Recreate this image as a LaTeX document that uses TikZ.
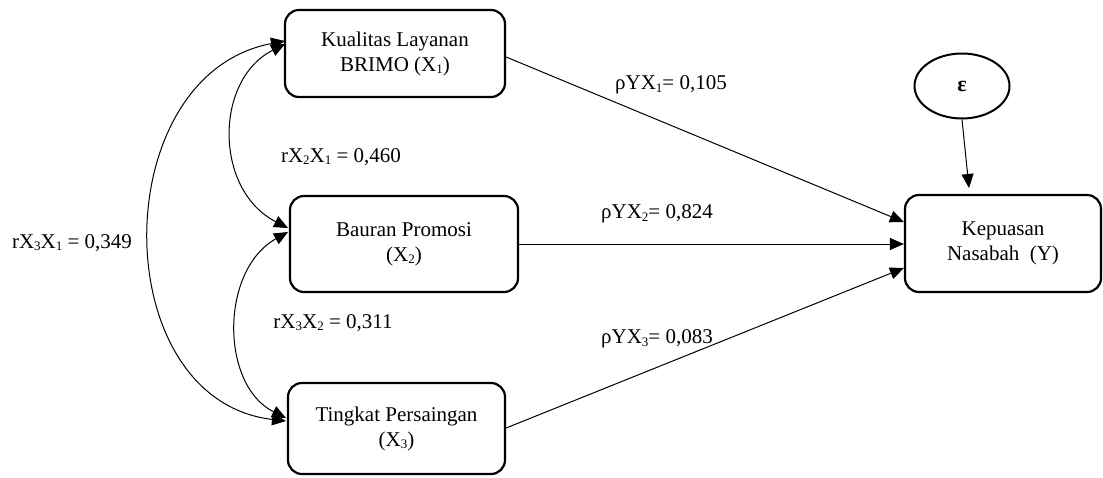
\documentclass[tikz,border=0pt]{standalone}
\usepackage{fontspec}
\setmainfont{Liberation Serif}
\usetikzlibrary{arrows.meta,shapes.geometric}
\newcommand\mysub[1]{\raisebox{-0.25ex}{\fontsize{13}{13}\selectfont #1}}
\begin{document}
\begin{tikzpicture}[x=1pt,y=-1pt,
  box/.style={draw,line width=2.2pt,rounded corners=14pt,align=center,inner sep=0pt,font=\fontsize{21}{25}\selectfont},
  lbl/.style={font=\fontsize{21}{25}\selectfont,inner sep=0pt},
  arr/.style={line width=1pt,-{Triangle[length=14pt,width=12pt]}},
  darr/.style={line width=1pt,{Triangle[length=14pt,width=12pt]}-{Triangle[length=14pt,width=12pt]}}]
\useasboundingbox (0,0) rectangle (1103,477);
\node[box,minimum width=220pt,minimum height=87pt] (x1) at (395,53.5) {Kualitas Layanan\\BRIMO (X\mysub{1})};
\node[box,minimum width=228pt,minimum height=96pt] (x2) at (404,244) {Bauran Promosi\\(X\mysub{2})};
\node[box,minimum width=217pt,minimum height=91pt] (x3) at (396.5,428.5) {Tingkat Persaingan\\(X\mysub{3})};
\node[box,minimum width=196pt,minimum height=97pt] (y) at (1003,243.5) {Kepuasan\\Nasabah~ (Y)};
\node[draw,line width=2pt,ellipse,minimum width=95pt,minimum height=65pt,inner sep=0pt,font=\fontsize{22}{26}\selectfont\bfseries] (e) at (962,86) {ε};
\coordinate (yt) at (969,188);
\draw[arr] (e.south) -- (yt);
\draw[arr] (x1.east |- 0,57) -- (y.west |- 0,222);
\draw[arr] (x2.east) -- (y.west |- 0,244);
\draw[arr] (x3.east |- 0,428) -- (y.west |- 0,268);
\coordinate (a1) at (285,41);
\coordinate (a1b) at (285,44);
\coordinate (a2a) at (288,228);
\coordinate (a2b) at (288,232);
\coordinate (a3a) at (286,421);
\coordinate (a3b) at (286,418);
\draw[darr] (a1) .. controls (105,75) and (105,400) .. (a3a);
\draw[darr] (a1b) .. controls (214,80) and (214,190) .. (a2a);
\draw[darr] (a2b) .. controls (220,270) and (220,385) .. (a3b);
\node[lbl] (l1) at (671,85) {ρYX\mysub{1}= 0,105};
\node[lbl] (l2) at (657,214) {ρYX\mysub{2}= 0,824};
\node[lbl] (l3) at (657,339) {ρYX\mysub{3}= 0,083};
\node[lbl] (l4) at (341,157) {rX\mysub{2}X\mysub{1} = 0,460};
\node[lbl] (l5) at (333,323) {rX\mysub{3}X\mysub{2} = 0,311};
\node[lbl] (l6) at (72,243) {rX\mysub{3}X\mysub{1} = 0,349};
\end{tikzpicture}
\end{document}
